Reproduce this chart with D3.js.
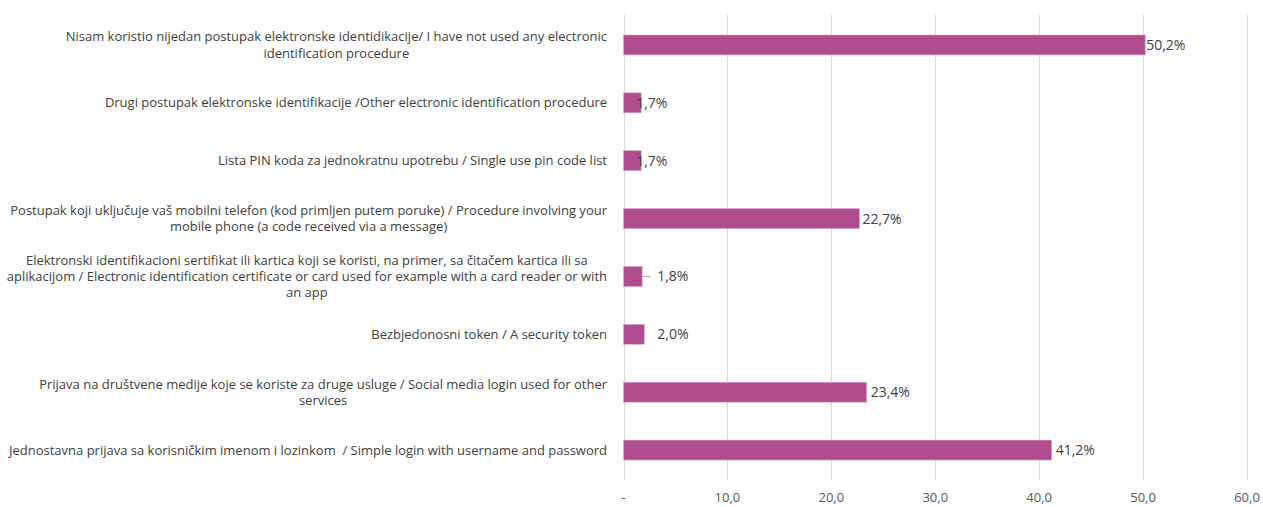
<!DOCTYPE html>
<html><head><meta charset="utf-8">
<script src="https://cdn.jsdelivr.net/npm/d3@7"></script>
<style>body{margin:0;background:#fff}svg{display:block}text{white-space:pre}</style>
</head><body>
<svg id="c" width="1263" height="507"></svg>
<script>
const categories = [
  ["Nisam koristio nijedan postupak elektronske identidikacije/ I have not used any electronic", "identification procedure"],
  ["Drugi postupak elektronske identifikacije /Other electronic identification procedure"],
  ["Lista PIN koda za jednokratnu upotrebu / Single use pin code list"],
  ["Postupak koji uključuje vaš mobilni telefon (kod primljen putem poruke) / Procedure involving your", "mobile phone (a code received via a message)"],
  ["Elektronski identifikacioni sertifikat ili kartica koji se koristi, na primer, sa čitačem kartica ili sa", "aplikacijom / Electronic identification certificate or card used for example with a card reader or with", "an app"],
  ["Bezbjedonosni token / A security token"],
  ["Prijava na društvene medije koje se koriste za druge usluge / Social media login used for other", "services"],
  ["Jednostavna prijava sa korisničkim imenom i lozinkom  / Simple login with username and password"]
];
const values = [50.2, 1.7, 1.7, 22.7, 1.8, 2.0, 23.4, 41.2];
const valueLabels = ["50,2%", "1,7%", "1,7%", "22,7%", "1,8%", "2,0%", "23,4%", "41,2%"];
const tickValues = [0, 10, 20, 30, 40, 50, 60];
const tickLabels = ["-", "10,0", "20,0", "30,0", "40,0", "50,0", "60,0"];
const labelShift = [1, -5, -5, 3, 15, 13, 4, 4];
const leaderLine = [false, false, false, false, true, false, false, false];

const svg = d3.select("#c");
const font = "'Open Sans', sans-serif";
const x = d3.scaleLinear().domain([0, 60]).range([623.5, 1247]);
const y = d3.scaleBand().domain(d3.range(values.length)).range([16, 479]).paddingInner(0.655).paddingOuter(0.3275);

// gridlines
svg.append("g").selectAll("line").data(tickValues).join("line")
  .attr("x1", d => Math.round(x(d)) + 0.5).attr("x2", d => Math.round(x(d)) + 0.5)
  .attr("y1", 15).attr("y2", 480)
  .attr("stroke", "#d9d9d9").attr("stroke-width", 1);

// axis labels
svg.append("g").selectAll("text").data(tickValues).join("text")
  .attr("x", d => x(d)).attr("y", 502)
  .attr("text-anchor", "middle")
  .attr("font-family", font).attr("font-size", 13).attr("fill", "#595959")
  .text((d, i) => tickLabels[i]);

// bars
svg.append("g").selectAll("rect").data(values).join("rect")
  .attr("x", x(0)).attr("y", (d, i) => y(i))
  .attr("width", d => x(d) - x(0)).attr("height", y.bandwidth())
  .attr("fill", "#ae4c8e").attr("stroke", "#e2a8cf").attr("stroke-width", 0.6);

// leader lines
values.forEach((v, i) => {
  if (leaderLine[i]) {
    svg.append("line").attr("x1", x(v) + 1).attr("x2", x(v) + 8)
      .attr("y1", y(i) + y.bandwidth() / 2).attr("y2", y(i) + y.bandwidth() / 2)
      .attr("stroke", "#a6a6a6").attr("stroke-width", 1);
  }
});

// value labels
svg.append("g").selectAll("text").data(values).join("text")
  .attr("x", (d, i) => x(d) + labelShift[i])
  .attr("y", (d, i) => y(i) + y.bandwidth() / 2 + 5)
  .attr("font-family", font).attr("font-size", 14).attr("fill", "#404040")
  .text((d, i) => valueLabels[i]);

// category labels: centered lines, block right-aligned at 607
const lh = 16.3;
categories.forEach((lines, i) => {
  const g = svg.append("g");
  const cy = y(i) + y.bandwidth() / 2;
  const ts = lines.map((l, j) => g.append("text")
    .attr("font-family", font).attr("font-size", 13).attr("fill", "#404040")
    .attr("text-anchor", "middle")
    .attr("y", cy - (lines.length - 1) * lh / 2 + j * lh + 4.5)
    .text(l));
  const w = d3.max(ts, t => t.node().getComputedTextLength());
  ts.forEach(t => t.attr("x", 607 - w / 2));
});
</script>
</body></html>
